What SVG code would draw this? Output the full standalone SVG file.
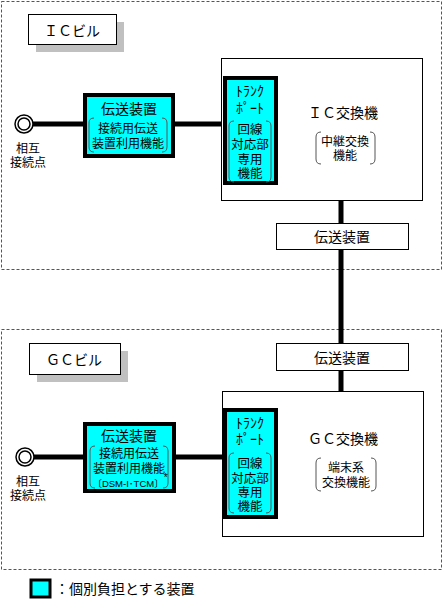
<svg xmlns="http://www.w3.org/2000/svg" width="443" height="599" viewBox="0 0 443 599">
<style>
text{font-family:"Noto Sans CJK JP","Noto Sans",sans-serif;fill:#000;text-anchor:middle;dominant-baseline:central}
.area{fill:#fff;stroke:#555;stroke-width:1;stroke-dasharray:3,2}
.label{fill:#fff;stroke:#000;stroke-width:1}
.shadow{fill:#c0c0c0}
.cyan{fill:#00ffff;stroke:#000;stroke-width:4}
.box{fill:#fff;stroke:#000;stroke-width:1}
.br{fill:none;stroke:#555;stroke-width:1}
.wire{stroke:#000;stroke-width:5;fill:none}
.t14{font-size:14px}
.t13{font-size:12.5px}
.t12{font-size:12px}
.kana{font-size:14px}
.dsm{font-size:9.5px;font-family:"Liberation Sans","Noto Sans CJK JP",sans-serif}
</style>
<rect width="443" height="599" fill="#fff"/>
<g id="ic-building">
<rect class="area" x="1.5" y="1.5" width="440" height="268"/>
<rect class="shadow" x="36" y="22" width="88" height="30"/>
<rect class="label" x="28.5" y="14.5" width="88" height="30"/>
<text class="t14" x="72" y="30">ＩＣビル</text>
</g>
<g id="gc-building">
<rect class="area" x="1.5" y="329.5" width="440" height="240"/>
<rect class="shadow" x="37" y="351" width="91" height="31"/>
<rect class="label" x="29.5" y="343.5" width="91" height="31"/>
<text class="t14" x="74" y="359">ＧＣビル</text>
</g>
<g id="connectors">
<line class="wire" x1="30" y1="124" x2="86" y2="124"/>
<line class="wire" x1="173" y1="124" x2="224" y2="124"/>
<line class="wire" x1="341" y1="200" x2="341" y2="391"/>
<line class="wire" x1="30" y1="457" x2="86" y2="457"/>
<line class="wire" x1="174" y1="457" x2="224" y2="457"/>
</g>
<g id="ic-poi">
<circle cx="24" cy="124" r="9" fill="#fff" stroke="#000" stroke-width="1.5"/>
<circle cx="24" cy="124" r="6" fill="#fff" stroke="#000" stroke-width="1.5"/>
<text class="t12"><tspan x="28" y="147">相互</tspan><tspan x="28" y="161">接続点</tspan></text>
</g>
<g id="ic-transmission">
<rect class="cyan" x="85" y="95" width="88" height="61"/>
<text class="t14" x="129" y="108">伝送装置</text>
<path class="br" d="M94,118 Q89,118 89,123 V147 Q89,152 94,152"/>
<path class="br" d="M162,118 Q167,118 167,123 V147 Q167,152 162,152"/>
<text class="t12"><tspan x="128" y="127">接続用伝送</tspan><tspan x="128" y="142">装置利用機能</tspan></text>
</g>
<g id="ic-exchange">
<rect class="box" x="221.5" y="58.5" width="201" height="142"/>
<text class="t14" x="343" y="112">ＩＣ交換機</text>
<path class="br" d="M321,132 Q316,132 316,137 V159 Q316,164 321,164"/>
<path class="br" d="M370,132 Q375,132 375,137 V159 Q375,164 370,164"/>
<text class="t12"><tspan x="345" y="140">中継交換</tspan><tspan x="345" y="154">機能</tspan></text>
</g>
<g id="ic-trunk">
<rect class="cyan" x="225" y="78" width="51" height="105"/>
<text class="kana"><tspan x="250" y="90">ﾄﾗﾝｸ</tspan><tspan x="250" y="107">ﾎﾟｰﾄ</tspan></text>
<path class="br" d="M234,121 Q229,121 229,126 V177 Q229,182 234,182"/>
<path class="br" d="M266,121 Q271,121 271,126 V177 Q271,182 266,182"/>
<text class="t13"><tspan x="250" y="128">回線</tspan><tspan x="250" y="143">対応部</tspan><tspan x="250" y="157.5">専用</tspan><tspan x="250" y="172">機能</tspan></text>
</g>
<g id="ic-transmission2">
<rect class="box" x="276.5" y="223.5" width="132" height="26"/>
<text class="t14" x="342" y="236">伝送装置</text>
</g>
<g id="gc-transmission2">
<rect class="box" x="276.5" y="343.5" width="132" height="27"/>
<text class="t14" x="342" y="357">伝送装置</text>
</g>
<g id="gc-poi">
<circle cx="25" cy="457" r="9" fill="#fff" stroke="#000" stroke-width="1.5"/>
<circle cx="25" cy="457" r="6" fill="#fff" stroke="#000" stroke-width="1.5"/>
<text class="t12"><tspan x="28" y="480">相互</tspan><tspan x="28" y="494">接続点</tspan></text>
</g>
<g id="gc-transmission">
<rect class="cyan" x="85" y="424" width="89" height="67"/>
<text class="t14" x="129" y="435">伝送装置</text>
<path class="br" d="M95,446 Q90,446 90,451 V483 Q90,488 95,488"/>
<path class="br" d="M163,446 Q168,446 168,451 V483 Q168,488 163,488"/>
<text class="t12"><tspan x="129" y="452">接続用伝送</tspan><tspan x="129" y="467">装置利用機能</tspan><tspan class="dsm" x="130" y="482.5">〔DSM-I･TCM〕<tspan baseline-shift="super" font-size="10">*</tspan></tspan></text>
</g>
<g id="gc-exchange">
<rect class="box" x="222.5" y="391.5" width="201" height="145"/>
<text class="t14" x="343" y="438">ＧＣ交換機</text>
<path class="br" d="M321,458 Q316,458 316,463 V486 Q316,491 321,491"/>
<path class="br" d="M371,458 Q376,458 376,463 V486 Q376,491 371,491"/>
<text class="t12"><tspan x="346" y="466">端末系</tspan><tspan x="346" y="481">交換機能</tspan></text>
</g>
<g id="gc-trunk">
<rect class="cyan" x="225" y="410" width="51" height="107"/>
<text class="kana"><tspan x="250" y="422">ﾄﾗﾝｸ</tspan><tspan x="250" y="438">ﾎﾟｰﾄ</tspan></text>
<path class="br" d="M234,453 Q229,453 229,458 V508 Q229,513 234,513"/>
<path class="br" d="M266,453 Q271,453 271,458 V508 Q271,513 266,513"/>
<text class="t13"><tspan x="250" y="462">回線</tspan><tspan x="250" y="476.5">対応部</tspan><tspan x="250" y="490.5">専用</tspan><tspan x="250" y="504.5">機能</tspan></text>
</g>
<g id="legend">
<rect x="31" y="580" width="19" height="17" fill="#00ffff" stroke="#000" stroke-width="3"/>
<text class="t14" x="55" y="588" style="text-anchor:start">：個別負担とする装置</text>
</g>
</svg>
